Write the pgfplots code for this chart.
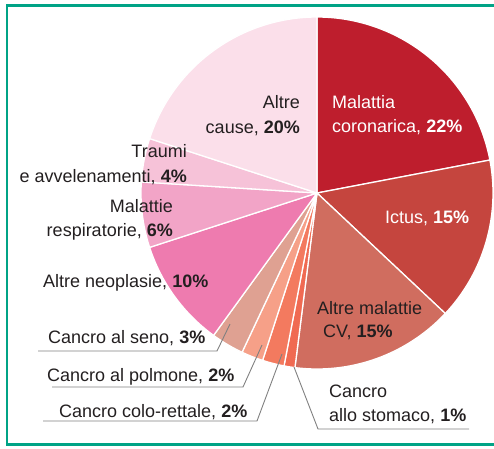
\documentclass[border=0pt]{standalone}
\usepackage{pgfplots}
\pgfplotsset{compat=1.18}
\usepgfplotslibrary{polar}
\usepackage{fontspec}
\setmainfont{Liberation Sans}
\definecolor{framegreen}{HTML}{00A386}
\definecolor{txt}{HTML}{231F20}
\definecolor{leader}{HTML}{808080}
\definecolor{cCor}{HTML}{BE1E2D}
\definecolor{cIct}{HTML}{C5453E}
\definecolor{cCV}{HTML}{D06D5F}
\definecolor{cSto}{HTML}{F06A52}
\definecolor{cCol}{HTML}{F37A5F}
\definecolor{cPol}{HTML}{F6A088}
\definecolor{cSen}{HTML}{DFA192}
\definecolor{cNeo}{HTML}{EE7BAF}
\definecolor{cRes}{HTML}{F2A4C7}
\definecolor{cTra}{HTML}{F6C2D8}
\definecolor{cAlt}{HTML}{FBDFEA}
% slice: #1 = cumulative percent before, #2 = percent, #3 = colour
\newcommand{\slice}[3]{%
  \pgfmathsetmacro\sa{90-3.6*(#1+#2)}%
  \pgfmathsetmacro\sb{90-3.6*(#1)}%
  \edef\tmp{\noexpand\addplot[fill=#3, draw=white, line width=1.3pt, line join=round, domain=\sa:\sb, samples=80, mark=none] {1} -- (axis cs:0,0) -- cycle;}%
  \tmp}
\begin{document}
\begin{tikzpicture}[x=1pt,y=1pt]
\useasboundingbox (0,0) rectangle (494,448);
\begin{polaraxis}[
  at={(317pt,255pt)}, anchor=center,
  width=352pt, height=352pt, scale only axis,
  ymin=0, ymax=1, hide axis, clip=false]
\slice{0}{22}{cCor}
\slice{22}{15}{cIct}
\slice{37}{15}{cCV}
\slice{52}{1}{cSto}
\slice{53}{2}{cCol}
\slice{55}{2}{cPol}
\slice{57}{3}{cSen}
\slice{60}{10}{cNeo}
\slice{70}{6}{cRes}
\slice{76}{4}{cTra}
\slice{80}{20}{cAlt}
\end{polaraxis}
% frame
\draw[framegreen, line width=2.5pt] (7,442.7) rectangle (500,3.5);
% leader lines
\draw[leader, line width=0.9pt] (230,124) -- (217,97) -- (38,97);
\draw[leader, line width=0.9pt] (262,103) -- (243,61) -- (52,61);
\draw[leader, line width=0.9pt] (282,94) -- (257,27) -- (43,27);
\draw[leader, line width=0.9pt] (294,81) -- (318,19) -- (469,19);
% labels
\begin{scope}[every node/.style={inner sep=0pt, font=\fontsize{18}{22}\selectfont}]
\node[white, anchor=base west] at (332,340) {Malattia};
\node[white, anchor=base west] at (332,316) {coronarica, \textbf{22\%}};
\node[txt, anchor=base east] at (300,340) {Altre};
\node[txt, anchor=base east] at (300,315) {cause, \textbf{20\%}};
\node[white, anchor=base west] at (385,225) {Ictus, \textbf{15\%}};
\node[txt, anchor=base west] at (317,134) {Altre malattie};
\node[txt, anchor=base west] at (323,111) {CV, \textbf{15\%}};
\node[txt, anchor=base east] at (187,291) {Traumi};
\node[txt, anchor=base east] at (187,266) {e avvelenamenti, \textbf{4\%}};
\node[txt, anchor=base east] at (173,236) {Malattie};
\node[txt, anchor=base east] at (173,212) {respiratorie, \textbf{6\%}};
\node[txt, anchor=base west] at (43,161) {Altre neoplasie, \textbf{10\%}};
\node[txt, anchor=base west] at (48,105) {Cancro al seno, \textbf{3\%}};
\node[txt, anchor=base west] at (47,67) {Cancro al polmone, \textbf{2\%}};
\node[txt, anchor=base west] at (59,31) {Cancro colo-rettale, \textbf{2\%}};
\node[txt, anchor=base west] at (329,51) {Cancro};
\node[txt, anchor=base west] at (329,27) {allo stomaco, \textbf{1\%}};
\end{scope}
\end{tikzpicture}
\end{document}
